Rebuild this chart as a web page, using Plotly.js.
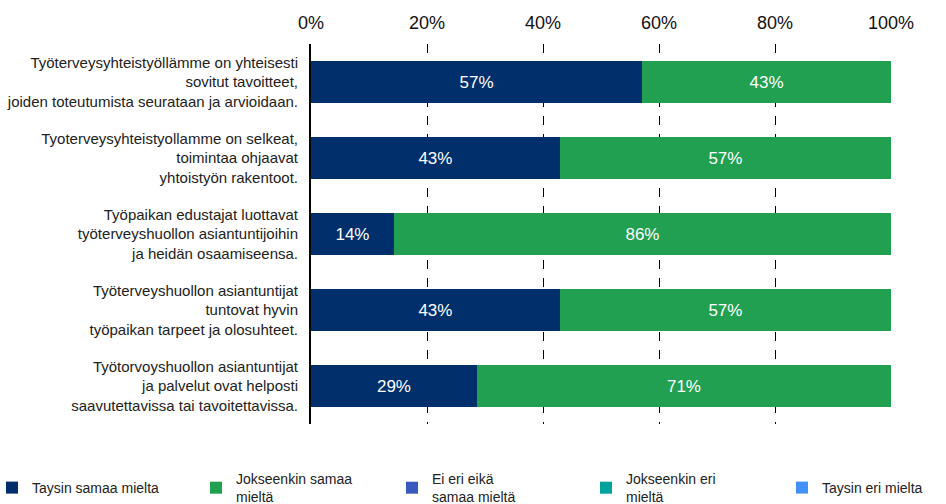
<!DOCTYPE html>
<html>
<head>
<meta charset="utf-8">
<script src="https://cdn.plot.ly/plotly-3.0.1.min.js"></script>
<style>html,body{margin:0;padding:0;background:#fff;}#chart{width:946px;height:504px;}</style>
</head>
<body>
<div id="chart"></div>
<script>
var categories = [
  "Työterveysyhteistyöllämme on yhteisesti<br>sovitut tavoitteet,<br>joiden toteutumista seurataan ja arvioidaan.",
  "Tyoterveysyhteistyollamme on selkeat,<br>toimintaa ohjaavat<br>yhtoistyön rakentoot.",
  "Työpaikan edustajat luottavat<br>työterveyshuollon asiantuntijoihin<br>ja heidän osaamiseensa.",
  "Työterveyshuollon asiantuntijat<br>tuntovat hyvin<br>työpaikan tarpeet ja olosuhteet.",
  "Työtorvoyshuollon asiantuntijat<br>ja palvelut ovat helposti<br>saavutettavissa tai tavoitettavissa."
];
var seriesNames = ["Taysin samaa mielta", "Jokseenkin samaa<br>mieltä", "Ei eri eikä<br>samaa mieltä", "Jokseenkin eri<br>mieltä", "Taysin eri mielta"];
var taysinSamaa = [57.1, 42.9, 14.3, 42.9, 28.6];
var jokseenkinSamaa = [42.9, 57.1, 85.7, 57.1, 71.4];
var eiEriEika = [0, 0, 0, 0, 0];
var jokseenkinEri = [0, 0, 0, 0, 0];
var taysinEri = [0, 0, 0, 0, 0];
var tickVals = [0, 20, 40, 60, 80, 100];
var tickText = ["0%", "20%", "40%", "60%", "80%", "100%"];

var colors = ["#002f6c", "#22a052", "#3a59bf", "#00a39b", "#4391f7"];
var values = [taysinSamaa, jokseenkinSamaa, eiEriEika, jokseenkinEri, taysinEri];
var legendIds = ["legend", "legend2", "legend3", "legend4", "legend5"];

var traces = values.map(function(v, i) {
  return {
    type: "bar",
    orientation: "h",
    name: seriesNames[i],
    legend: legendIds[i],
    y: categories,
    x: v,
    marker: {color: colors[i]},
    text: v.map(function(d){ return d > 0 ? Math.round(d) + "%" : ""; }),
    textposition: "inside",
    insidetextanchor: "middle",
    textfont: {color: "#ffffff", size: 17, family: "Liberation Sans, Arial, sans-serif"},
    hoverinfo: "skip"
  };
});

// plot area: left 311px, width 580px, top 44px, height 380px
var legendLeftPx = [-8, 196, 392, 586, 782];
var layout = {
  width: 946,
  height: 504,
  margin: {l: 311, r: 55, t: 44, b: 80, autoexpand: false},
  barmode: "stack",
  bargap: 0.46,
  showlegend: true,
  font: {family: "Liberation Sans, Arial, sans-serif", color: "#222222", size: 15},
  paper_bgcolor: "#ffffff",
  plot_bgcolor: "#ffffff",
  xaxis: {
    side: "top",
    range: [0, 100],
    tickvals: tickVals,
    ticktext: tickText,
    showgrid: true,
    gridcolor: "#000000",
    gridwidth: 1,
    griddash: "dash",
    zeroline: false,
    showline: false,
    ticks: "",
    ticklabelstandoff: 10,
    tickfont: {size: 18, color: "#111111"},
    fixedrange: true
  },
  yaxis: {
    autorange: "reversed",
    showline: true,
    linecolor: "#000000",
    linewidth: 2,
    showgrid: false,
    zeroline: false,
    ticks: "",
    ticklabelstandoff: 8,
    tickfont: {size: 15, color: "#222222"},
    fixedrange: true
  }
};
legendIds.forEach(function(id, i) {
  layout[id] = {
    orientation: "v",
    x: (legendLeftPx[i] - 311) / 580,
    xanchor: "left",
    y: (424 - 488) / 380,
    yanchor: "middle",
    valign: "middle",
    bgcolor: "rgba(0,0,0,0)",
    font: {size: 14, color: "#222222"},
    itemclick: false,
    itemdoubleclick: false
  };
});

Plotly.newPlot("chart", traces, layout, {displayModeBar: false, staticPlot: true});
</script>
</body>
</html>
